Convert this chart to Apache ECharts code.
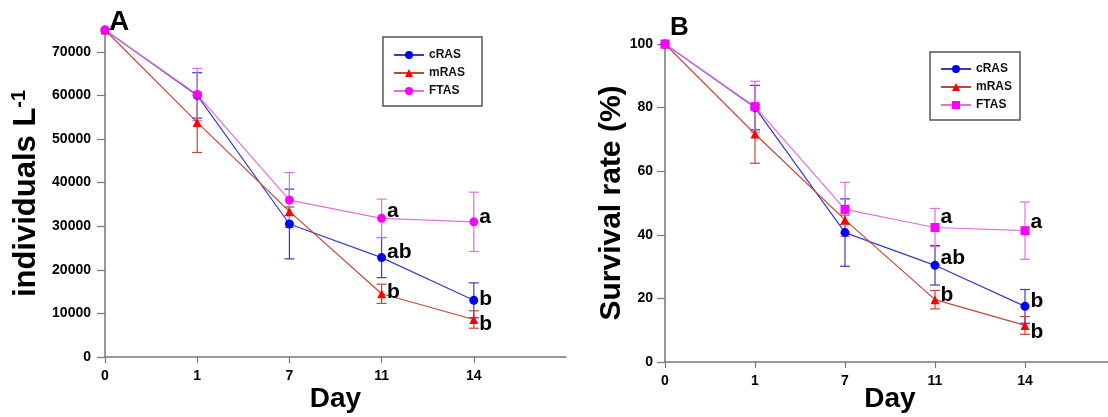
<!DOCTYPE html>
<html>
<head>
<meta charset="utf-8">
<title>Survival</title>
<script src="https://cdn.jsdelivr.net/npm/echarts@6/dist/echarts.min.js"></script>
<style>
html, body { margin: 0; padding: 0; background: #fff; }
#main { width: 1108px; height: 417px; }
</style>
</head>
<body>
<div id="main"></div>
<script>
// sampling days (plotted evenly spaced)
var dayLabels = ['0', '1', '7', '11', '14'];

// panel A: individuals L-1 (mean, +/- error)
var cRasA = [75000, 60000, 30500, 22800, 13000];
var cRasAErr = [0, 5200, 8000, 4600, 4000];
var mRasA = [75000, 53800, 33400, 14500, 8600];
var mRasAErr = [0, 6900, 1000, 2200, 2000];
var ftasA = [75000, 60200, 36000, 31800, 31000];
var ftasAErr = [0, 6000, 6300, 4400, 6800];

// panel B: survival rate (%)
var cRasB = [100, 80, 40.7, 30.4, 17.5];
var cRasBErr = [0, 7, 10.6, 6.2, 5.3];
var mRasB = [100, 71.7, 44.7, 19.6, 11.5];
var mRasBErr = [0, 9.2, 1.5, 2.9, 2.8];
var ftasB = [100, 80.3, 48, 42.3, 41.3];
var ftasBErr = [0, 8, 8.5, 6, 9];

// significance letters
var cRasLetters = ['', '', '', 'ab', 'b'];
var mRasLetters = ['', '', '', 'b', 'b'];
var ftasLetters = ['', '', '', 'a', 'a'];

var yTicksA = [0, 10000, 20000, 30000, 40000, 50000, 60000, 70000];

var FONT = 'Arial, "Liberation Sans", sans-serif';

// vertical nudges for the letters
var shiftA = { cRAS: [0, 0, 0, -5, -1], mRAS: [0, 0, 0, -2, 5], FTAS: [0, 0, 0, -7, -5] };
var shiftB = { cRAS: [0, 0, 0, -7, -5], mRAS: [0, 0, 0, -4, 7], FTAS: [0, 0, 0, -10, -8] };

function lineSeries(name, g, values, letters, shifts, color, lineColor, symbol) {
    return {
        name: name,
        type: 'line',
        xAxisIndex: g,
        yAxisIndex: g,
        symbol: symbol,
        symbolSize: 9,
        z: 3,
        itemStyle: { color: color },
        lineStyle: { color: lineColor, width: 1.2 },
        label: {
            position: 'right', distance: 1,
            fontFamily: FONT, fontSize: 21, fontWeight: 'bold', color: '#000'
        },
        data: values.map(function (v, i) {
            return {
                value: [i, v],
                label: letters[i] ? { show: true, formatter: letters[i], offset: [0, shifts[i]] } : { show: false }
            };
        })
    };
}

function errSeries(name, g, values, errs, color) {
    var data = [];
    values.forEach(function (v, i) {
        if (errs[i] > 0) data.push([i, v - errs[i], v + errs[i]]);
    });
    return {
        name: name,
        type: 'custom',
        xAxisIndex: g,
        yAxisIndex: g,
        z: 2,
        encode: { x: 0, y: [1, 2] },
        data: data,
        renderItem: function (params, api) {
            var x = api.value(0);
            var lo = api.coord([x, api.value(1)]);
            var hi = api.coord([x, api.value(2)]);
            var w = 5;
            var st = { stroke: color, lineWidth: 1.2 };
            return {
                type: 'group',
                children: [
                    { type: 'line', shape: { x1: lo[0], y1: lo[1], x2: hi[0], y2: hi[1] }, style: st },
                    { type: 'line', shape: { x1: lo[0] - w, y1: lo[1], x2: lo[0] + w, y2: lo[1] }, style: st },
                    { type: 'line', shape: { x1: hi[0] - w, y1: hi[1], x2: hi[0] + w, y2: hi[1] }, style: st }
                ]
            };
        }
    };
}

function xAxisFor(g, gap) {
    return {
        type: 'value', gridIndex: g, min: 0, max: 5, interval: 1,
        name: 'Day', nameLocation: 'middle', nameGap: gap, nameMoveOverlap: false,
        nameTextStyle: { fontFamily: FONT, fontSize: 28, fontWeight: 'bold', color: '#000' },
        axisLine: { lineStyle: { color: '#777', width: 1.5 } },
        axisTick: { length: 6, customValues: [0, 1, 2, 3, 4], lineStyle: { color: '#777', width: 1.2 } },
        axisLabel: {
            margin: 12, customValues: [0, 1, 2, 3, 4],
            fontFamily: FONT, fontSize: 14, fontWeight: 'bold', color: '#000',
            formatter: function (v) { return dayLabels[v] || ''; }
        },
        splitLine: { show: false }
    };
}

var lineBlue = '#3a3ac8', lineRed = '#c0483a', lineMag = '#e070e0';

var legendBase = {
    orient: 'vertical',
    itemWidth: 30,
    itemHeight: 10,
    itemGap: 4,
    borderColor: '#555',
    borderWidth: 1.5,
    backgroundColor: '#fff',
    textStyle: { fontFamily: FONT, fontSize: 12, fontWeight: 'bold', color: '#111', lineHeight: 14 }
};

var option = {
    animation: false,
    backgroundColor: '#fff',
    title: [
        { text: 'A', left: 109, top: 8, padding: 0, textStyle: { fontFamily: FONT, fontSize: 28, fontWeight: 'bold', color: '#000' } },
        { text: 'B', left: 670, top: 15, padding: 0, textStyle: { fontFamily: FONT, fontSize: 26, fontWeight: 'bold', color: '#000' } }
    ],
    legend: [
        Object.assign({}, legendBase, {
            left: 383, top: 37, padding: [11, 17, 8, 10],
            data: ['cRAS', 'mRAS', 'FTAS']
        }),
        Object.assign({}, legendBase, {
            left: 930, top: 52, padding: [10, 8, 8, 10],
            data: ['cRAS (B)', 'mRAS (B)', 'FTAS (B)'],
            formatter: function (n) { return n.replace(' (B)', ''); }
        })
    ],
    grid: [
        { left: 105, top: 30, width: 461, height: 327, outerBoundsMode: 'none' },
        { left: 665, top: 44, width: 450, height: 318, outerBoundsMode: 'none' }
    ],
    xAxis: [xAxisFor(0, 28), xAxisFor(1, 23)],
    yAxis: [
        {
            type: 'value', gridIndex: 0, min: 0, max: 75000, interval: 10000,
            name: 'individuals L{sup|-1}', nameLocation: 'middle', nameGap: 61, nameMoveOverlap: false,
            nameTextStyle: {
                fontFamily: FONT, fontSize: 31, fontWeight: 'bold', color: '#000',
                rich: { sup: { fontFamily: FONT, fontSize: 20, fontWeight: 'bold', color: '#000', verticalAlign: 'top', lineHeight: 35 } }
            },
            axisLine: { show: true, lineStyle: { color: '#777', width: 1.5 } },
            axisTick: { show: true, length: 8, customValues: yTicksA, lineStyle: { color: '#777', width: 1.2 } },
            axisLabel: {
                margin: 14, customValues: yTicksA, fontFamily: FONT, fontSize: 14, fontWeight: 'bold', color: '#000',
                formatter: function (v) { return String(v); }
            },
            splitLine: { show: false }
        },
        {
            type: 'value', gridIndex: 1, min: 0, max: 100, interval: 20,
            name: 'Survival rate (%)', nameLocation: 'middle', nameGap: 38, nameMoveOverlap: false,
            nameTextStyle: { fontFamily: FONT, fontSize: 30, fontWeight: 'bold', color: '#000' },
            axisLine: { show: true, lineStyle: { color: '#777', width: 1.5 } },
            axisTick: { show: true, length: 8, lineStyle: { color: '#777', width: 1.2 } },
            axisLabel: { margin: 12, fontFamily: FONT, fontSize: 14, fontWeight: 'bold', color: '#000' },
            splitLine: { show: false }
        }
    ],
    series: [
        lineSeries('cRAS', 0, cRasA, cRasLetters, shiftA.cRAS, '#0000ff', lineBlue, 'circle'),
        lineSeries('mRAS', 0, mRasA, mRasLetters, shiftA.mRAS, '#ff0000', lineRed, 'triangle'),
        lineSeries('FTAS', 0, ftasA, ftasLetters, shiftA.FTAS, '#ff00ff', lineMag, 'circle'),
        lineSeries('cRAS (B)', 1, cRasB, cRasLetters, shiftB.cRAS, '#0000ff', lineBlue, 'circle'),
        lineSeries('mRAS (B)', 1, mRasB, mRasLetters, shiftB.mRAS, '#ff0000', lineRed, 'triangle'),
        lineSeries('FTAS (B)', 1, ftasB, ftasLetters, shiftB.FTAS, '#ff00ff', lineMag, 'rect'),
        errSeries('cRAS', 0, cRasA, cRasAErr, lineBlue),
        errSeries('mRAS', 0, mRasA, mRasAErr, lineRed),
        errSeries('FTAS', 0, ftasA, ftasAErr, lineMag),
        errSeries('cRAS (B)', 1, cRasB, cRasBErr, lineBlue),
        errSeries('mRAS (B)', 1, mRasB, mRasBErr, lineRed),
        errSeries('FTAS (B)', 1, ftasB, ftasBErr, lineMag)
    ]
};

var myChart = echarts.init(document.getElementById('main'));
myChart.setOption(option);
</script>
</body>
</html>
